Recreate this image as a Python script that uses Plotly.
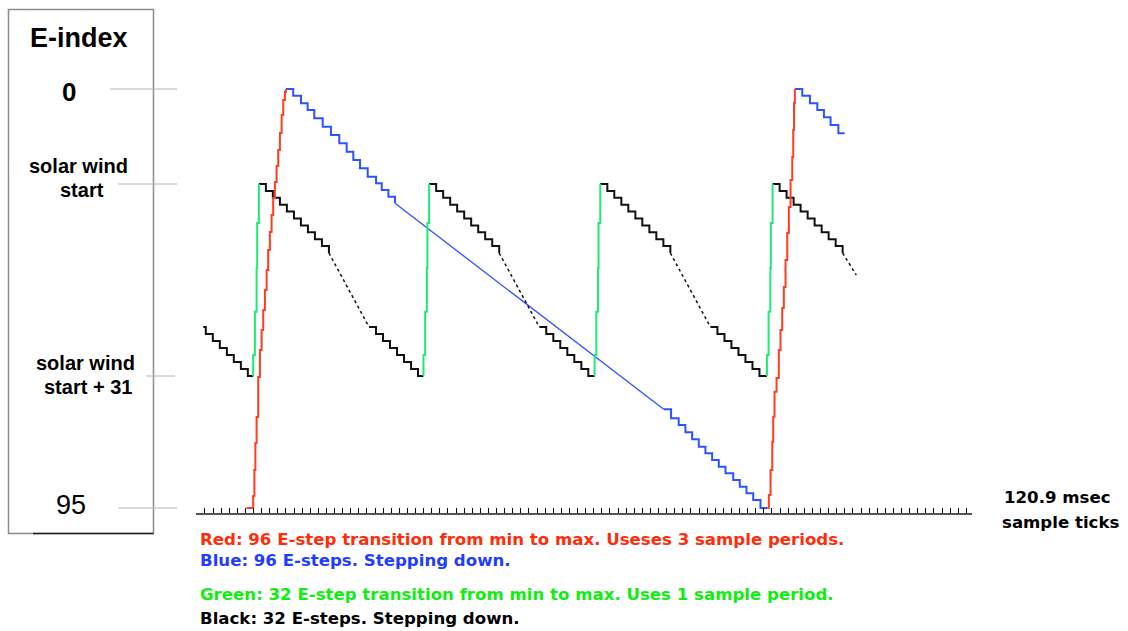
import plotly.graph_objects as go

# ---------------- data (x in sample ticks, y in E-index) ----------------
N_SAMPLE_TICKS = 96

# 32-step sawtooth (black stepping down, green fast rise), one entry per cycle top
CYCLE_TOPS = [7.66, 28.68, 49.81, 71.08]
BLACK_TOP_DX = [0.0, 0.87, 1.73, 2.60, 3.46, 4.33, 5.19, 6.06, 6.92, 7.79, 8.65]
BLACK_TOP_E = [21.54, 23.10, 24.67, 26.23, 27.80, 29.36, 30.93, 32.49, 34.06, 35.62, 37.18]
BLACK_LOW_DX = [13.60, 14.46, 15.33, 16.19, 17.06, 17.92, 18.79, 19.65]
BLACK_LOW_E = [53.96, 55.55, 57.14, 58.72, 60.31, 61.90, 63.49, 65.07]
BLACK_LEAD_X = [0.80, 1.11, 1.98, 2.84, 3.71, 4.57, 5.44, 6.30, 6.96]
BLACK_LEAD_E = [53.96, 55.55, 57.14, 58.72, 60.31, 61.90, 63.49, 65.07, 65.07]
BLACK_TAIL_END = (81.41, 42.17)
GREEN_DX = [-0.70, -0.70, -0.49, -0.28, -0.21, 0.0]
GREEN_E = [65.07, 60.31, 50.49, 40.59, 30.38, 21.54]

# 96-step sawtooth (blue stepping down, red rise over 3 sample periods)
BLUE_A_X = [11.00, 11.90, 12.86, 13.68, 14.50, 15.54, 16.56, 17.59, 18.50, 19.32,
            20.15, 21.10, 22.13, 22.83, 23.65, 24.47]
BLUE_A_E = [0, 1.52, 3.24, 4.76, 6.64, 8.55, 10.43, 12.31, 14.21, 16.10,
            17.98, 19.88, 21.38, 22.90, 24.42, 25.92]
BLUE_MID_X = [24.47, 57.64]
BLUE_MID_E = [25.92, 72.62]
BLUE_LOW_X = [57.64, 58.55, 59.49, 60.32, 61.15, 61.97, 62.79, 63.62, 64.44, 65.27,
              66.22, 67.03, 67.86, 68.69, 69.59, 70.42]
BLUE_LOW_E = [72.62, 74.66, 76.18, 77.84, 79.42, 81.10, 82.60, 84.12, 85.64, 87.13,
              88.65, 90.17, 91.67, 93.19, 95.0, 95.0]
BLUE_B_X = [73.83, 74.75, 75.69, 76.60, 77.42, 78.24, 79.20, 79.98]
BLUE_B_E = [0, 1.52, 3.24, 4.76, 6.42, 8.16, 10.04, 10.04]
RED_A_X = [6.14, 6.96, 7.11, 7.23, 7.38, 7.58, 7.79, 8.00, 8.20, 8.41, 8.62, 8.81,
           9.02, 9.23, 9.43, 9.64, 9.85, 10.05, 10.26, 10.47, 10.67, 10.88, 11.00]
RED_A_E = [95, 92.28, 86.39, 80.26, 74.37, 65.30, 59.18, 54.63, 50.10, 45.57, 41.04,
           36.50, 32.42, 28.57, 24.71, 21.09, 17.46, 13.83, 9.98, 5.90, 2.49, 0.68, 0]
RED_B_X = [70.42, 70.62, 70.83, 71.04, 71.16, 71.32, 71.57, 71.85, 72.06, 72.27,
           72.47, 72.68, 72.89, 73.09, 73.30, 73.51, 73.63, 73.73, 73.83]
RED_B_E = [95, 92.05, 86.39, 79.97, 74.30, 68.63, 65.53, 59.18, 54.63, 49.65,
           44.89, 38.77, 32.65, 26.75, 20.63, 15.42, 9.30, 3.17, 0]

# y-axis labels (E-index levels)
Y_LEVELS = [0, 21.54, 65.07, 95]

LEGEND_LINES = [
    ("Red: 96 E-step transition from min to max. Useses 3 sample periods.", "#ff2d0a"),
    ("Blue: 96 E-steps. Stepping down.", "#1f3cff"),
    ("Green: 32 E-step transition from min to max. Uses 1 sample period.", "#10ee10"),
    ("Black: 32 E-steps. Stepping down.", "#000000"),
]

# ---------------- colours ----------------
RED = "#ff3d1f"
BLUE = "#2d52ff"
GREEN = "#1fea72"
BLACK = "#111111"
GREY = "#b4b4b4"

# ---------------- build traces ----------------
blk_x, blk_y = list(BLACK_LEAD_X) + [None], list(BLACK_LEAD_E) + [None]
dot_x, dot_y = [], []
grn_x, grn_y = [], []
for k, top in enumerate(CYCLE_TOPS):
    blk_x += [top + d for d in BLACK_TOP_DX] + [None]
    blk_y += list(BLACK_TOP_E) + [None]
    grn_x += [top + d for d in GREEN_DX] + [None]
    grn_y += list(GREEN_E) + [None]
    start = (top + BLACK_TOP_DX[-1], BLACK_TOP_E[-1])
    if k < len(CYCLE_TOPS) - 1:
        nxt = CYCLE_TOPS[k + 1]
        dot_x += [start[0], top + BLACK_LOW_DX[0], None]
        dot_y += [start[1], BLACK_LOW_E[0], None]
        blk_x += [top + d for d in BLACK_LOW_DX] + [nxt + GREEN_DX[0], None]
        blk_y += list(BLACK_LOW_E) + [BLACK_LOW_E[-1], None]
    else:
        dot_x += [start[0], BLACK_TAIL_END[0], None]
        dot_y += [start[1], BLACK_TAIL_END[1], None]

blue_x = BLUE_A_X + [None] + BLUE_LOW_X + [None] + BLUE_B_X
blue_y = BLUE_A_E + [None] + BLUE_LOW_E + [None] + BLUE_B_E
red_x = RED_A_X + [None] + RED_B_X
red_y = RED_A_E + [None] + RED_B_E

fig = go.Figure()
fig.add_trace(go.Scatter(x=BLUE_MID_X, y=BLUE_MID_E, mode="lines",
                         line=dict(color=BLUE, width=1.3), hoverinfo="skip"))
fig.add_trace(go.Scatter(x=blue_x, y=blue_y, mode="lines",
                         line=dict(color=BLUE, width=2, shape="hv"), hoverinfo="skip"))
fig.add_trace(go.Scatter(x=dot_x, y=dot_y, mode="lines",
                         line=dict(color=BLACK, width=1.5, dash="dot"), hoverinfo="skip"))
fig.add_trace(go.Scatter(x=blk_x, y=blk_y, mode="lines",
                         line=dict(color=BLACK, width=2, shape="hv"), hoverinfo="skip"))
fig.add_trace(go.Scatter(x=grn_x, y=grn_y, mode="lines",
                         line=dict(color=GREEN, width=2, shape="hv"), hoverinfo="skip"))
fig.add_trace(go.Scatter(x=red_x, y=red_y, mode="lines",
                         line=dict(color=RED, width=2, shape="hv"), hoverinfo="skip"))

# ---------------- layout ----------------
W_PX, H_PX = 1128, 631
L, R, T, B = 196, 972, 60, 513
PW, PH = R - L, B - T


def xp(px):
    return (px - L) / PW


def yp(py):
    return (B - py) / PH


BOXFONT = "Liberation Sans, Arial, sans-serif"
TXTFONT = "DejaVu Sans, Verdana, sans-serif"

annotations = []


def add_text(text, x, y, size, color="#000", family=BOXFONT, weight="bold",
             xanchor="center", yref="paper", yshift=0):
    annotations.append(dict(text=text, x=x, y=y, xref="paper", yref=yref,
                            xanchor=xanchor, yanchor="middle", showarrow=False,
                            yshift=yshift,
                            font=dict(family=family, size=size, color=color, weight=weight)))


add_text("E-index", xp(79), yp(38), 27)
add_text("0", xp(69), Y_LEVELS[0], 26, yref="y", yshift=-3)
add_text("solar wind", xp(78.5), Y_LEVELS[1], 20, yref="y", yshift=18)
add_text("start", xp(81.5), Y_LEVELS[1], 20, yref="y", yshift=-6)
add_text("solar wind", xp(85), Y_LEVELS[2], 20, yref="y", yshift=13)
add_text("start + 31", xp(87.5), Y_LEVELS[2], 20, yref="y", yshift=-11)
add_text("95", xp(71), Y_LEVELS[3], 27, yref="y", yshift=3, weight="normal")

add_text("120.9 msec", xp(1057), yp(497), 16.6, family=TXTFONT)
add_text("sample ticks", xp(1060), yp(522), 16.6, family=TXTFONT)

for (txt, col), py in zip(LEGEND_LINES, [539, 560, 594.5, 618.5]):
    add_text(txt, xp(198), yp(py), 16.6, color=col, family=TXTFONT, xanchor="left")

shapes = [
    dict(type="rect", xref="paper", yref="paper", x0=xp(8.5), x1=xp(153.5),
         y0=yp(533.5), y1=yp(9.5), line=dict(color="#8c8c8c", width=1.5), layer="below"),
    dict(type="line", xref="paper", yref="paper", x0=xp(33), x1=xp(153.5),
         y0=yp(533.5), y1=yp(533.5), line=dict(color="#222", width=1.5)),
]
for lev, (x0, x1) in zip(Y_LEVELS, [(110, 177), (118, 177), (146, 175), (118, 177)]):
    shapes.append(dict(type="line", xref="paper", yref="y", x0=xp(x0), x1=xp(x1),
                       y0=lev, y1=lev, line=dict(color=GREY, width=1)))

y_top = -6.575
y_bot = 96.13

fig.update_layout(
    width=W_PX, height=H_PX, autosize=False,
    margin=dict(l=L, r=W_PX - R, t=T, b=H_PX - B, pad=0),
    paper_bgcolor="white", plot_bgcolor="white",
    showlegend=False,
    xaxis=dict(range=[-0.1, 95.7], showgrid=False, zeroline=False,
               showticklabels=False, ticks="inside", ticklen=5, tickwidth=1,
               tickcolor="#000", tickmode="linear", tick0=0, dtick=1,
               showline=True, linecolor="#555", linewidth=2, fixedrange=True),
    yaxis=dict(range=[y_bot, y_top], showgrid=False, zeroline=False,
               showticklabels=False, showline=False, ticks="", fixedrange=True),
    annotations=annotations,
    shapes=shapes,
)

fig.write_html("out.html", config={"displayModeBar": False},
               post_script="document.body.style.margin='0';")
